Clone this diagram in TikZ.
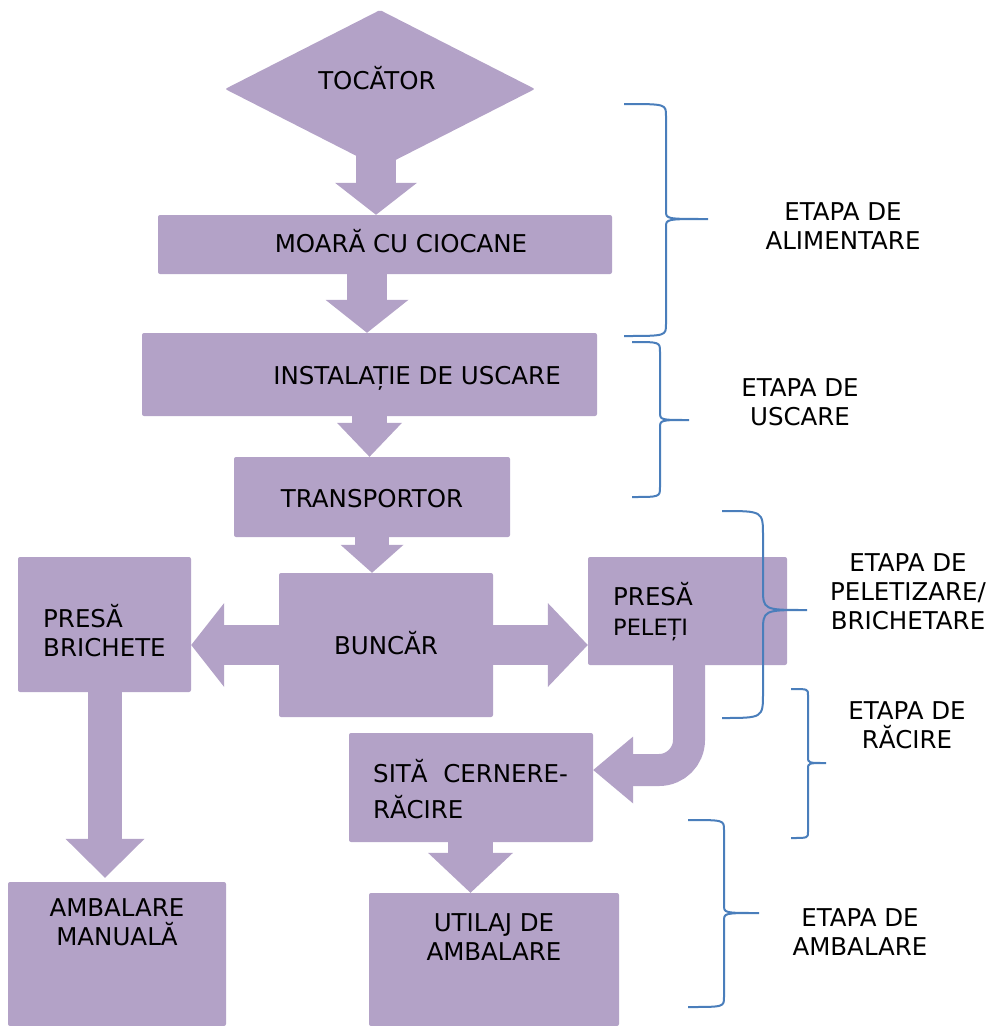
\documentclass[tikz,border=0pt]{standalone}
\usepackage{fontspec}
\setmainfont{DejaVu Sans}
\usetikzlibrary{shapes.geometric,arrows.meta,calc}
\definecolor{boxfill}{RGB}{179,162,199}
\definecolor{bracecol}{RGB}{74,126,187}

% curly brace: end x, spine x, tip x, top y, tip y, bottom y, end bend, cusp bend
\newcommand\stagebrace[8]{%
  \draw[brace] (#1,#4) .. controls (#2,#4) and (#2,#4) .. (#2,#4+#7)
    -- (#2,#5-#8) .. controls (#2,#5) and (#2,#5) .. (#3,#5)
    .. controls (#2,#5) and (#2,#5) .. (#2,#5+#8)
    -- (#2,#6-#7) .. controls (#2,#6) and (#2,#6) .. (#1,#6);}

\begin{document}
\begin{tikzpicture}[x=1pt,y=-1pt,
  box/.style 2 args={fill=boxfill, rounded corners=2pt, inner sep=0pt,
    minimum width=#1pt, minimum height=#2pt},
  fat/.style n args={3}{draw=boxfill, line width=#1pt,
    -{Triangle[width=#2pt,length=#3pt,line width=0pt]}},
  lbl/.style={font=\fontsize{24.5}{29}\selectfont, inner sep=0pt, align=center},
  lblw/.style={lbl, align=left, anchor=west},
  brace/.style={draw=bracecol, line width=2pt}]
\useasboundingbox (0,0) rectangle (990,1026);

% process blocks
\node[diamond, fill=boxfill, minimum width=310pt, minimum height=158pt,
      inner sep=0pt, rounded corners=2pt] (tocator) at (380,89) {};
\node[box={454}{59}]  (moara)    at (385,244.5) {};
\node[box={455}{83}]  (instal)   at (369.5,374.5) {};
\node[box={276}{80}]  (transp)   at (372,497) {};
\node[box={214}{144}] (buncar)   at (386,645) {};
\node[box={173}{135}] (brichete) at (104.5,624.5) {};
\node[box={199}{108}] (pelet)    at (687.5,611) {};
\node[box={244}{109}] (sita)     at (471,787.5) {};
\node[box={218}{144}] (manual)   at (117,954) {};
\node[box={250}{133}] (utilaj)   at (494,959.5) {};

% arrow axes
\coordinate (ax1) at (376,0);
\coordinate (ax2) at (367,0);
\coordinate (ax3) at (369.5,0);
\coordinate (ax4) at (372,0);
\coordinate (ax7) at (105,0);
\coordinate (ax9) at (470.5,0);

% block arrows
\draw[fat={40}{82}{32}] (tocator.center -| ax1) -- (moara.north -| ax1);
\draw[fat={40}{83}{33}] (moara.south -| ax2) -- (instal.north -| ax2);
\draw[fat={35}{65}{34}] (instal.south -| ax3) -- (transp.north -| ax3);
\draw[fat={34}{63}{28}] (transp.south -| ax4) -- (buncar.north -| ax4);
\draw[fat={40}{84}{33}] (buncar.west) -- (brichete.east |- buncar.west);
\draw[fat={40}{84}{40}] (buncar.east) -- (pelet.west |- buncar.east);
\draw[fat={34}{79}{39}, shorten >=4pt] (brichete.south -| ax7) -- (manual.north -| ax7);
\draw[fat={32}{67}{40}, rounded corners=30pt]
  ($(pelet.south)+(1.5,0)$) |- ($(sita.east)+(0,-17.5)$);
\draw[fat={45}{85}{40}] (sita.south -| ax9) -- (utilaj.north -| ax9);

% block texts
\node[lbl, anchor=base] (t-tocator) at (377,89) {TOCĂTOR};
\node[lbl, anchor=base] (t-moara) at (401,252) {MOARĂ CU CIOCANE};
\node[lbl, anchor=base] (t-instal) at (417,384) {INSTALAȚIE DE USCARE};
\node[lbl, anchor=base] (t-transp) at (372,507) {TRANSPORTOR};
\node[lbl, anchor=base] (t-buncar) at (386,654) {BUNCĂR};
\node[lblw] (t-brichete) at (43,631) {PRESĂ\\BRICHETE};
\node[lblw] (t-pelet) at (613,612) {PRESĂ\\[1pt]{\fontsize{22.5}{27}\selectfont PELEȚI}};
\node[lblw] (t-sita) at (373,789) {SITĂ~~CERNERE-\\[7pt]RĂCIRE};
\node[lbl] (t-manual) at (117,922.5) {AMBALARE\\MANUALĂ};
\node[lbl] (t-utilaj) at (494,937.5) {UTILAJ DE\\AMBALARE};

% stage labels
\node[lbl] (s-alim) at (843,226) {ETAPA DE\\ALIMENTARE};
\node[lbl] (s-usc) at (800,402.5) {ETAPA DE\\USCARE};
\node[lbl] (s-pel) at (908,591.5) {ETAPA DE\\PELETIZARE/\\BRICHETARE};
\node[lbl] (s-rac) at (907,725) {ETAPA DE\\RĂCIRE};
\node[lbl] (s-amb) at (860,932.5) {ETAPA DE\\AMBALARE};

% stage braces
\stagebrace{624}{666}{708}{104}{219}{336}{12}{8}
\stagebrace{632}{660}{689}{342}{420}{497}{10}{8}
\stagebrace{722}{763}{807}{511}{610}{718}{25}{22}
\stagebrace{791}{808}{826}{689}{763}{838}{6}{6}
\stagebrace{688}{724}{759}{820}{913}{1007}{10}{8}
\end{tikzpicture}
\end{document}
